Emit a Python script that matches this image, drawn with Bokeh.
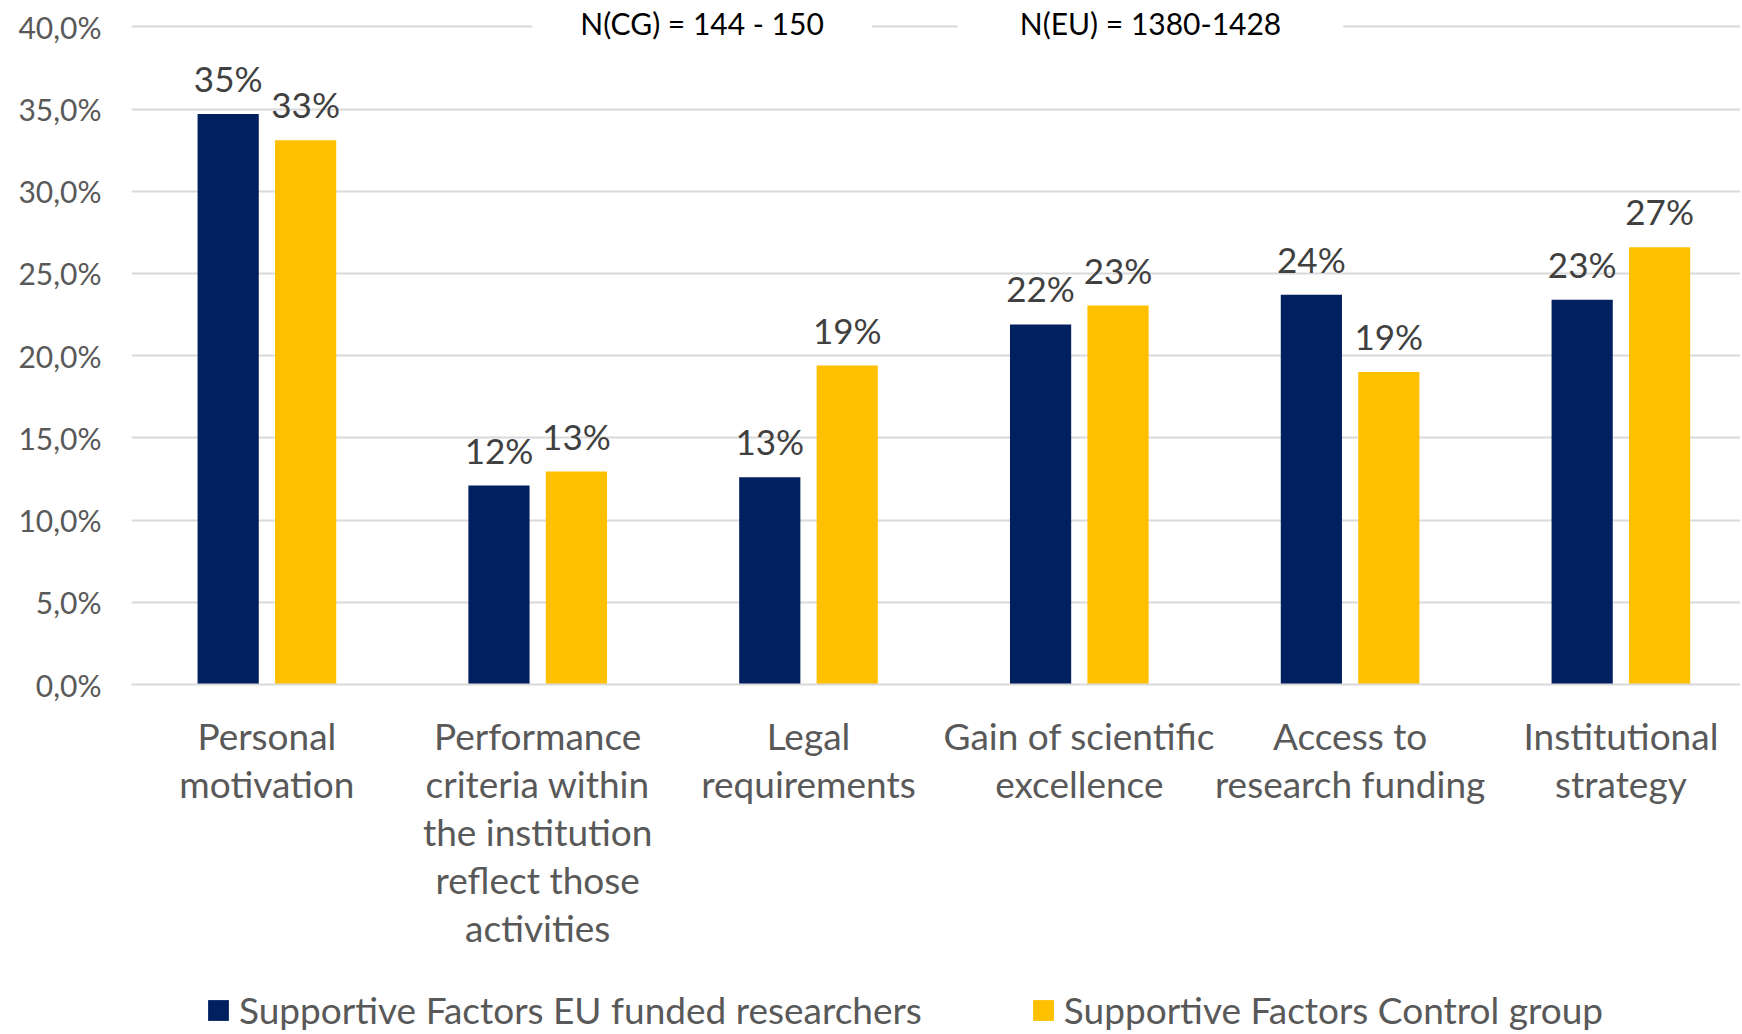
import numpy as np
from bokeh.plotting import figure
from bokeh.layouts import column
from bokeh.models import (FixedTicker, Label, Legend, LegendItem, ColumnDataSource, Range1d)
from bokeh.core.properties import value
from bokeh.embed import file_html
from bokeh.resources import INLINE

categories = ["Personal\nmotivation",
              "Performance\ncriteria within\nthe institution\nreflect those\nactivities",
              "Legal\nrequirements",
              "Gain of scientific\nexcellence",
              "Access to\nresearch funding",
              "Institutional\nstrategy"]
eu_values = [34.7, 12.1, 12.6, 21.9, 23.7, 23.4]
cg_values = [33.1, 12.95, 19.4, 23.05, 19.0, 26.6]
series_names = ["Supportive Factors EU funded researchers", "Supportive Factors Control group"]
y_ticks = [0, 5, 10, 15, 20, 25, 30, 35, 40]
y_tick_labels = ["0,0%", "5,0%", "10,0%", "15,0%", "20,0%", "25,0%", "30,0%", "35,0%", "40,0%"]
note_cg = "N(CG) = 144 - 150"
note_eu = "N(EU) = 1380-1428"

NAVY = "#002060"
GOLD = "#FFC000"
FONT = "Lato"
W = 1740

centers = np.arange(len(categories)) + 0.5
off = 0.143
bw = 0.226

eu_src = ColumnDataSource(dict(x=centers - off, top=eu_values,
                               lab=[f"{round(v):d}%" for v in eu_values]))
cg_src = ColumnDataSource(dict(x=centers + off, top=cg_values,
                               lab=[f"{round(v):d}%" for v in cg_values]))

p = figure(width=W, height=988, output_backend="svg", toolbar_location=None,
           x_range=Range1d(0, (W - 131) / 270.8), y_range=Range1d(0, 41.6),
           min_border_left=131, min_border_right=0, min_border_top=0, min_border_bottom=304)
p.outline_line_color = None
p.background_fill_color = "white"

p.vbar(x="x", top="top", width=bw, source=eu_src, fill_color=NAVY, line_color=None)
p.vbar(x="x", top="top", width=bw, source=cg_src, fill_color=GOLD, line_color=None)

for src in (eu_src, cg_src):
    p.text(x="x", y="top", text="lab", source=src, text_align="center",
           text_baseline="alphabetic", y_offset=-36,
           text_font=value(FONT), text_font_size="35px", text_color="#404040")

# axes
p.yaxis.ticker = FixedTicker(ticks=y_ticks)
p.yaxis.major_label_overrides = {t: l for t, l in zip(y_ticks, y_tick_labels)}
p.yaxis.axis_line_color = None
p.yaxis.major_tick_line_color = None
p.yaxis.minor_tick_line_color = None
p.yaxis.major_label_text_font = FONT
p.yaxis.major_label_text_font_size = "30px"
p.yaxis.major_label_text_color = "#595959"
p.yaxis.major_label_standoff = 24

p.xaxis.ticker = FixedTicker(ticks=list(centers))
p.xaxis.major_label_overrides = {float(c): lab for c, lab in zip(centers, categories)}
p.xaxis.axis_line_color = "#d9d9d9"
p.xaxis.axis_line_width = 2
p.xaxis.major_tick_line_color = None
p.xaxis.minor_tick_line_color = None
p.xaxis.major_label_text_font = FONT
p.xaxis.major_label_text_font_size = "37px"
p.xaxis.major_label_text_color = "#595959"
p.xaxis.major_label_text_line_height = 1.07
p.xaxis.major_label_standoff = 22

p.xgrid.grid_line_color = None
p.ygrid.grid_line_color = "#d9d9d9"
p.ygrid.grid_line_width = 2
p.ygrid.ticker = FixedTicker(ticks=y_ticks)

for xx, txt, pad in ((2.107, note_cg, 48), (3.763, note_eu, 62)):
    p.add_layout(Label(x=xx, y=40, text=txt, text_align="center", text_baseline="middle",
                       y_offset=4, text_font=FONT, text_font_size="30px", text_color="black",
                       background_fill_color="white",
                       padding=dict(left=pad, right=pad, top=4, bottom=4)))

# legend strip below the chart (same data sources, bars kept out of its view)
pl = figure(width=W, height=44, output_backend="svg", toolbar_location=None,
            x_range=Range1d(100, 101), y_range=Range1d(100, 101),
            x_axis_location=None, y_axis_location=None,
            min_border_left=0, min_border_right=0, min_border_top=0, min_border_bottom=0)
pl.outline_line_color = None
pl.xgrid.grid_line_color = None
pl.ygrid.grid_line_color = None
l_eu = pl.vbar(x="x", top="top", width=bw, source=eu_src, fill_color=NAVY, line_color=None)
l_cg = pl.vbar(x="x", top="top", width=bw, source=cg_src, fill_color=GOLD, line_color=None)
legend = Legend(items=[LegendItem(label=series_names[0], renderers=[l_eu]),
                       LegendItem(label=series_names[1], renderers=[l_cg])],
                orientation="horizontal", location=(74, 0),
                label_text_font=FONT, label_text_font_size="37px", label_text_color="#595959",
                glyph_width=26, glyph_height=26, label_standoff=8, spacing=108,
                padding=0, margin=0, border_line_color=None, background_fill_alpha=0)
pl.add_layout(legend, "center")

layout = column(p, pl, spacing=0)
open("out.html", "w").write(file_html(layout, INLINE))
